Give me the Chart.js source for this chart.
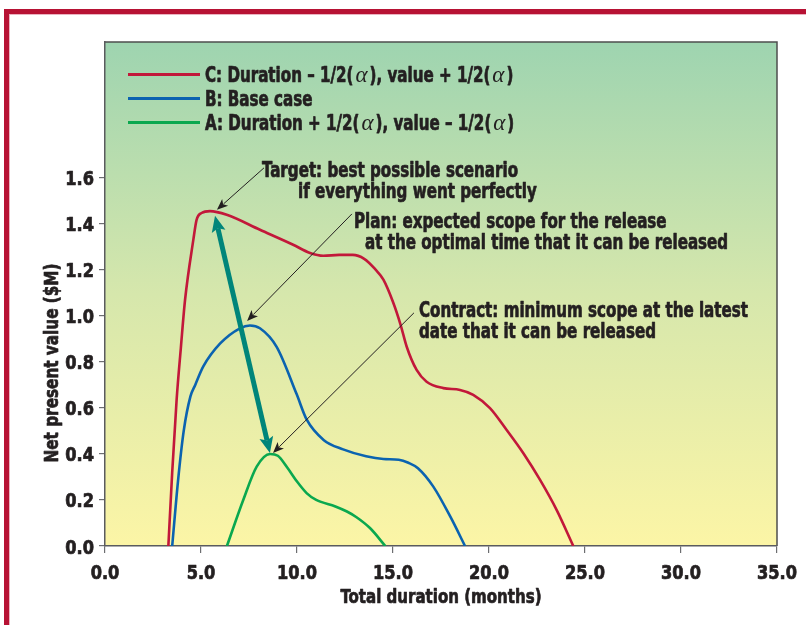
<!DOCTYPE html>
<html>
<head>
<meta charset="utf-8">
<title>Net present value by total duration</title>
<script src="https://cdn.jsdelivr.net/npm/chart.js@4/dist/chart.umd.min.js"></script>
<style>
  html, body { margin: 0; padding: 0; background: #ffffff; }
  #wrap { width: 806px; height: 625px; }
</style>
</head>
<body>
<div id="wrap"><canvas id="npv" width="806" height="625"></canvas></div>
<script>
// Scenario C: duration - 1/2(alpha), value + 1/2(alpha)
const durationC = [3.3, 3.5, 3.73, 3.95, 4.17, 4.6, 4.77, 5.03, 5.47, 6.34, 8.07, 9.8, 10.68, 11.37, 12.2, 12.9, 13.5, 14.05, 14.5, 15.0, 15.4, 15.71, 16.23, 16.75, 17.62, 18.49, 19.18, 20.05, 20.92, 21.79, 22.66, 23.52, 24.39];
const npvC      = [0.0, 0.32, 0.635, 0.86, 1.07, 1.33, 1.417, 1.447, 1.455, 1.439, 1.374, 1.309, 1.273, 1.261, 1.265, 1.265, 1.248, 1.205, 1.157, 1.06, 0.96, 0.867, 0.765, 0.714, 0.686, 0.678, 0.657, 0.599, 0.504, 0.403, 0.287, 0.157, 0.0];

// Scenario B: base case
const durationB = [3.5, 3.8, 4.1, 4.45, 4.7, 5.12, 6.0, 7.03, 7.55, 8.07, 8.94, 9.98, 10.5, 11.4, 12.4, 13.6, 14.5, 15.3, 15.8, 16.3, 17.1, 18.0, 18.75];
const npvB      = [0.0, 0.28, 0.50, 0.65, 0.70, 0.78, 0.88, 0.946, 0.958, 0.946, 0.865, 0.66, 0.55, 0.46, 0.42, 0.39, 0.378, 0.375, 0.362, 0.338, 0.258, 0.125, 0.0];

// Scenario A: duration + 1/2(alpha), value - 1/2(alpha)
const durationA = [6.35, 7.2, 7.9, 8.6, 9.0, 9.5, 10.0, 10.5, 11.0, 12.0, 12.6, 13.1, 13.8, 14.6];
const npvA      = [0.0, 0.20, 0.345, 0.40, 0.392, 0.34, 0.28, 0.23, 0.20, 0.172, 0.15, 0.125, 0.078, 0.0];

const seriesLabels = [
  'C: Duration \u2013 1/2(\u03b1), value + 1/2(\u03b1)',
  'B: Base case',
  'A: Duration + 1/2(\u03b1), value \u2013 1/2(\u03b1)'
];

// Axis ticks and titles
const xTickStep = 5;   // 0.0 ... 35.0 months
const yTickStep = 0.2; // 0.0 ... 1.6 $M
const yTickTop = 1.6;
const xTitle = 'Total duration (months)';
const yTitle = 'Net present value ($M)';

// Callouts: text lines plus arrow (from, to) in data units
const callouts = [
  { lines: ['Target: best possible scenario', 'if everything went perfectly'],
    from: [8.28, 1.643], to: [5.83, 1.461] },
  { lines: ['Plan: expected scope for the release', 'at the optimal time that it can be released'],
    from: [12.86, 1.443], to: [7.40, 0.978] },
  { lines: ['Contract: minimum scope at the latest', 'date that it can be released'],
    from: [16.09, 1.013], to: [8.75, 0.404] }
];
// Double-headed arrow between target peak and contract peak
const spanArrow = { from: [5.73, 1.435], to: [8.59, 0.404] };

const FONT = "'Liberation Sans Narrow','Arial Narrow','DejaVu Sans Condensed','DejaVu Sans',sans-serif";
const INK = '#231f20';
const COLORS = { C: '#c2183a', B: '#0b63b0', A: '#0aa84f' };

const toPoints = (xs, ys) => xs.map((x, i) => ({ x, y: ys[i] }));

// text placement for callout blocks (left x, first baseline, indent of line 2)
const calloutLayout = [
  { x: 262, y: 177, indent: 36 },
  { x: 354, y: 228, indent: 11 },
  { x: 419, y: 317, indent: 0 }
];

// horizontal squeeze so the bold sans reads as a condensed face
let hScale = 1;
let tickScale = 1;
function fitScale(ctx) {
  ctx.font = `bold 21px ${FONT}`;
  hScale = 329 / ctx.measureText('Contract: minimum scope at the latest').width;
  ctx.font = `bold 20px ${FONT}`;
  tickScale = 40 / ctx.measureText('35.0').width;
}
function drawText(ctx, text, x, y, k = hScale) {
  ctx.save();
  ctx.translate(x, y);
  ctx.scale(k, 1);
  ctx.strokeStyle = INK;
  ctx.lineWidth = 0.7;
  ctx.lineJoin = 'round';
  ctx.strokeText(text, 0, 0);
  ctx.fillText(text, 0, 0);
  ctx.restore();
}
function thinArrow(ctx, x1, y1, x2, y2) {
  const a = Math.atan2(y2 - y1, x2 - x1);
  const len = 11, half = 4.5;
  ctx.save();
  ctx.strokeStyle = '#231f20';
  ctx.lineWidth = 1;
  ctx.beginPath();
  ctx.moveTo(x1, y1);
  ctx.lineTo(x2 - Math.cos(a) * len * 0.8, y2 - Math.sin(a) * len * 0.8);
  ctx.stroke();
  ctx.translate(x2, y2);
  ctx.rotate(a);
  ctx.beginPath();
  ctx.moveTo(0, 0);
  ctx.lineTo(-len, -half);
  ctx.lineTo(-len * 0.75, 0);
  ctx.lineTo(-len, half);
  ctx.closePath();
  ctx.fillStyle = '#231f20';
  ctx.fill();
  ctx.restore();
}
function headAt(ctx, x, y, a, len, half, color) {
  ctx.save();
  ctx.translate(x, y);
  ctx.rotate(a);
  ctx.beginPath();
  ctx.moveTo(0, 0);
  ctx.lineTo(-len, -half);
  ctx.lineTo(-len * 0.8, 0);
  ctx.lineTo(-len, half);
  ctx.closePath();
  ctx.fillStyle = color;
  ctx.fill();
  ctx.restore();
}

const decorPlugin = {
  id: 'decor',
  beforeDraw(chart) {
    const { ctx, chartArea: a } = chart;
    fitScale(ctx);
    ctx.save();
    // page frame
    ctx.fillStyle = '#b71234';
    ctx.fillRect(4, 9, 802, 5);
    ctx.fillRect(4, 9, 5, 616);
    ctx.fillStyle = '#eab3c0';
    ctx.fillRect(9, 14, 797, 1);
    ctx.fillRect(9, 14, 1, 611);
    // plot background
    const g = ctx.createLinearGradient(0, a.top, 0, a.bottom);
    g.addColorStop(0, '#9ed4b0');
    g.addColorStop(0.5, '#d6e7ac');
    g.addColorStop(1, '#fcf5a6');
    ctx.fillStyle = g;
    ctx.fillRect(a.left, a.top, a.right - a.left, a.bottom - a.top);
    ctx.strokeStyle = '#4d4d4d';
    ctx.lineWidth = 1.5;
    ctx.beginPath();
    ctx.moveTo(a.left, a.top);
    ctx.lineTo(a.right, a.top);
    ctx.lineTo(a.right, a.bottom);
    ctx.stroke();
    ctx.restore();
  },
  afterDatasetsDraw(chart) {
    const { ctx, scales: { x, y } } = chart;
    ctx.save();
    // span arrow (both ends)
    const sx1 = x.getPixelForValue(spanArrow.from[0]), sy1 = y.getPixelForValue(spanArrow.from[1]);
    const sx2 = x.getPixelForValue(spanArrow.to[0]), sy2 = y.getPixelForValue(spanArrow.to[1]);
    const ang = Math.atan2(sy2 - sy1, sx2 - sx1);
    const hl = 16;
    ctx.strokeStyle = '#00857a';
    ctx.lineWidth = 5;
    ctx.beginPath();
    ctx.moveTo(sx1 + Math.cos(ang) * hl * 0.8, sy1 + Math.sin(ang) * hl * 0.8);
    ctx.lineTo(sx2 - Math.cos(ang) * hl * 0.8, sy2 - Math.sin(ang) * hl * 0.8);
    ctx.stroke();
    headAt(ctx, sx2, sy2, ang, hl, 7, '#00857a');
    headAt(ctx, sx1, sy1, ang + Math.PI, hl, 7, '#00857a');

    // callouts
    ctx.fillStyle = INK;
    ctx.font = `bold 21px ${FONT}`;
    ctx.textBaseline = 'alphabetic';
    ctx.textAlign = 'left';
    callouts.forEach((c, i) => {
      const L = calloutLayout[i];
      drawText(ctx, c.lines[0], L.x, L.y);
      drawText(ctx, c.lines[1], L.x + L.indent, L.y + 21);
      thinArrow(ctx,
        x.getPixelForValue(c.from[0]), y.getPixelForValue(c.from[1]),
        x.getPixelForValue(c.to[0]), y.getPixelForValue(c.to[1]));
    });
    ctx.restore();
  },
  afterDraw(chart) {
    const { ctx, scales: { x, y } } = chart;
    ctx.save();
    ctx.fillStyle = INK;
    ctx.textBaseline = 'alphabetic';

    // tick labels, placed from the scales' own ticks
    ctx.font = `bold 20px ${FONT}`;
    ctx.textAlign = 'center';
    x.ticks.forEach(t => {
      drawText(ctx, Number(t.value).toFixed(1), x.getPixelForValue(t.value), 579, tickScale);
    });
    ctx.textAlign = 'right';
    y.ticks.forEach(t => {
      drawText(ctx, Number(t.value).toFixed(1), 94, y.getPixelForValue(t.value) + 7.5, tickScale);
    });

    // axis titles
    ctx.textAlign = 'center';
    ctx.font = `bold 20px ${FONT}`;
    const xk = 201 / ctx.measureText(xTitle).width;
    drawText(ctx, xTitle, (x.left + x.right) / 2, 603, xk);
    ctx.save();
    ctx.translate(58, 363);
    ctx.rotate(-Math.PI / 2);
    const yk = 199 / ctx.measureText(yTitle).width;
    drawText(ctx, yTitle, 0, 0, yk);
    ctx.restore();

    // legend
    ctx.textAlign = 'left';
    const baselines = [82, 106, 130];
    chart.data.datasets.forEach((ds, i) => {
      const by = baselines[i];
      ctx.strokeStyle = ds.borderColor;
      ctx.lineWidth = 3;
      ctx.beginPath();
      ctx.moveTo(128, by - 7.5);
      ctx.lineTo(200, by - 7.5);
      ctx.stroke();
      ctx.fillStyle = INK;
      let cx = 205;
      ds.label.split('\u03b1').forEach((part, j, arr) => {
        ctx.font = `bold 21px ${FONT}`;
        drawText(ctx, part, cx, by);
        cx += ctx.measureText(part).width * hScale;
        if (j < arr.length - 1) {
          ctx.font = "italic 23px 'Liberation Serif','DejaVu Serif',serif";
          ctx.fillText('\u03b1', cx + 2, by);
          cx += ctx.measureText('\u03b1').width + 4;
        }
      });
    });
    ctx.restore();
  }
};

const mkSet = (label, xs, ys, color) => ({
  label,
  data: toPoints(xs, ys),
  borderColor: color,
  backgroundColor: color,
  borderWidth: 2.6,
  pointRadius: 0,
  fill: false,
  cubicInterpolationMode: 'monotone'
});

new Chart(document.getElementById('npv'), {
  type: 'line',
  data: {
    datasets: [
      mkSet(seriesLabels[0], durationC, npvC, COLORS.C),
      mkSet(seriesLabels[1], durationB, npvB, COLORS.B),
      mkSet(seriesLabels[2], durationA, npvA, COLORS.A)
    ]
  },
  options: {
    responsive: false,
    animation: false,
    devicePixelRatio: 1,
    layout: { padding: { top: 42, right: 29, left: 0, bottom: 0 } },
    plugins: { legend: { display: false }, tooltip: { enabled: false } },
    scales: {
      x: {
        type: 'linear',
        min: 0,
        max: 35,
        afterFit: s => { s.height = 79; },
        ticks: { display: false, stepSize: xTickStep },
        grid: { drawOnChartArea: false, drawTicks: true, tickLength: 7, color: '#6d6e71', lineWidth: 1.2 },
        border: { color: '#5a5b5e', width: 1.5 },
        title: { display: false, text: xTitle }
      },
      y: {
        type: 'linear',
        min: 0,
        max: 2.19,
        afterFit: s => { s.width = 105; },
        afterBuildTicks: s => { s.ticks = s.ticks.filter(t => t.value <= yTickTop + 1e-6); },
        ticks: { display: false, stepSize: yTickStep },
        grid: { drawOnChartArea: false, drawTicks: true, tickLength: 6, color: '#6d6e71', lineWidth: 1.2 },
        border: { color: '#5a5b5e', width: 1.5 },
        title: { display: false, text: yTitle }
      }
    }
  },
  plugins: [decorPlugin]
});
</script>
</body>
</html>
